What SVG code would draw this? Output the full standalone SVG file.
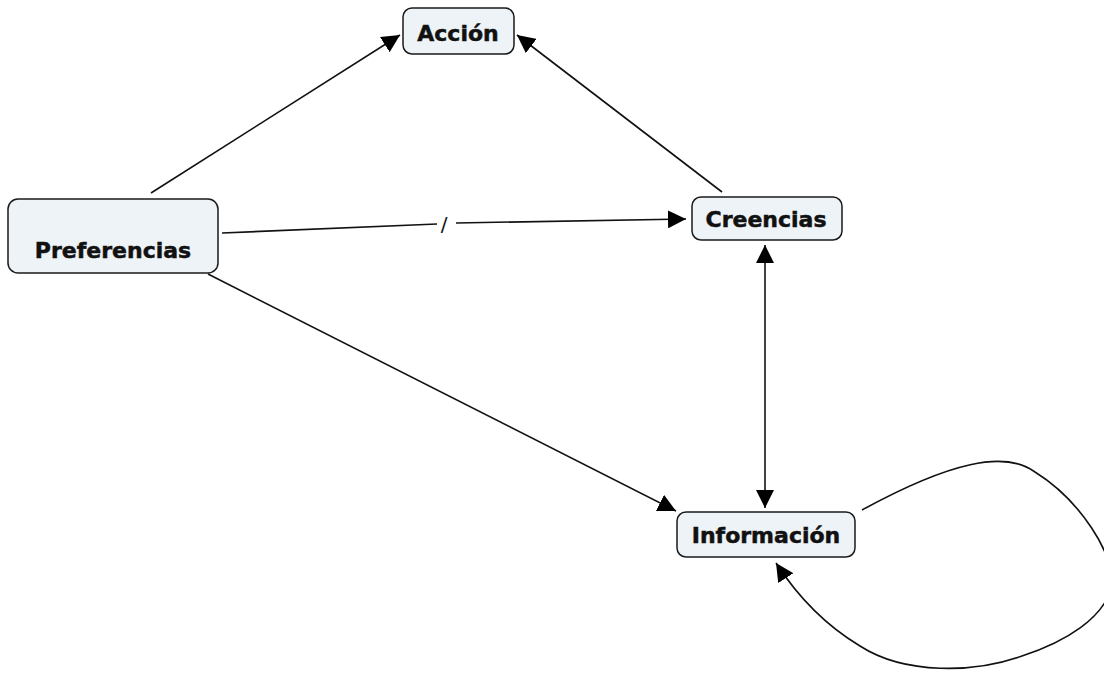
<svg xmlns="http://www.w3.org/2000/svg" width="1104" height="673" viewBox="0 0 1104 673">
  <style>
    .node rect { fill: #edf3f6; stroke: #1a1a1a; stroke-width: 1.5; }
    .node text { font-family: "DejaVu Sans", Verdana, sans-serif; font-weight: bold; font-size: 22px; fill: #111; stroke: #111; stroke-width: 0.5; text-anchor: middle; }
    .edge { fill: none; stroke: #111; stroke-width: 1.6; }
    .lbl { font-family: "DejaVu Sans", Verdana, sans-serif; font-size: 20px; fill: #111; text-anchor: middle; }
  </style>
  <defs>
    <marker id="arrow" markerUnits="userSpaceOnUse" markerWidth="18" markerHeight="18" viewBox="0 0 16 16" refX="16" refY="8" orient="auto">
      <path d="M0,0 L16,8 L0,16 z" fill="#000"/>
    </marker>
    <marker id="arrowStart" markerUnits="userSpaceOnUse" markerWidth="18" markerHeight="18" viewBox="0 0 16 16" refX="0" refY="8" orient="auto">
      <path d="M16,0 L0,8 L16,16 z" fill="#000"/>
    </marker>
  </defs>

  <rect width="1104" height="673" fill="#ffffff"/>

  <g id="connectors">
    <!-- Preferencias -> Acción -->
    <line class="edge" x1="151" y1="193" x2="400" y2="35" marker-end="url(#arrow)"/>
    <!-- Creencias -> Acción -->
    <line class="edge" x1="722" y1="192" x2="517" y2="35" marker-end="url(#arrow)"/>
    <!-- Preferencias -> Creencias, split by the "/" label -->
    <line class="edge" x1="222" y1="233" x2="437" y2="224"/>
    <line class="edge" x1="456" y1="223" x2="686" y2="219" marker-end="url(#arrow)"/>
    <text class="lbl" x="444" y="231">/</text>
    <!-- Preferencias -> Información -->
    <line class="edge" x1="208" y1="274" x2="676" y2="511" marker-end="url(#arrow)"/>
    <!-- Creencias <-> Información -->
    <line class="edge" x1="765" y1="245" x2="765" y2="508" marker-start="url(#arrowStart)" marker-end="url(#arrow)"/>
    <!-- Información self loop -->
    <path class="edge" d="M862,510 C950,462 1005,450 1035,472 C1080,500 1115,555 1112,585 C1105,618 1065,642 1022,656 C975,673 905,675 860,646 C830,628 800,600 776,563" marker-end="url(#arrow)"/>
  </g>

  <g id="node-accion" class="node">
    <rect x="403" y="8" width="111" height="46" rx="9"/>
    <text x="458" y="41">Acción</text>
  </g>
  <g id="node-preferencias" class="node">
    <rect x="8" y="199" width="210" height="74" rx="10"/>
    <text x="113" y="258">Preferencias</text>
  </g>
  <g id="node-creencias" class="node">
    <rect x="692" y="197" width="150" height="43" rx="9"/>
    <text x="766" y="227">Creencias</text>
  </g>
  <g id="node-informacion" class="node">
    <rect x="677" y="512" width="178" height="45" rx="9"/>
    <text x="766" y="543">Información</text>
  </g>
</svg>
